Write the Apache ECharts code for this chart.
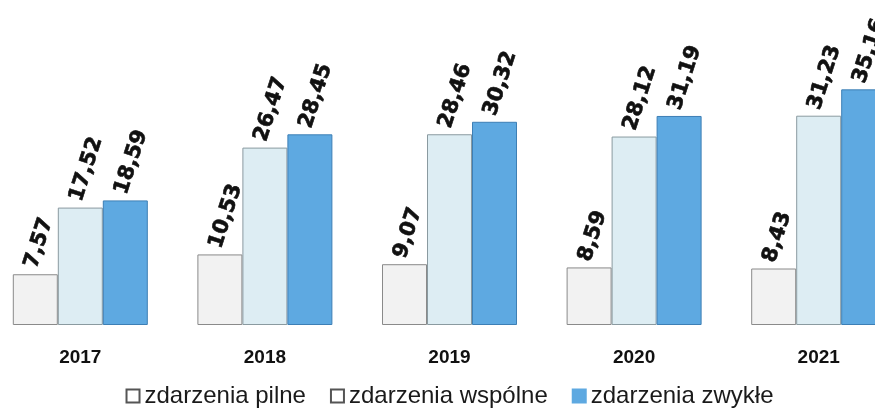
<!DOCTYPE html>
<html>
<head>
<meta charset="utf-8">
<script src="https://cdn.jsdelivr.net/npm/echarts@6/dist/echarts.min.js"></script>
<style>
  html, body { margin: 0; padding: 0; background: #ffffff; overflow: hidden; }
  /* wykres szerszy niż okno: ostatnia grupa jest ucięta jak w oryginale */
  #chart { width: 923px; height: 410px; margin-left: -12px; }
</style>
</head>
<body>
<div id="chart"></div>
<script>
// lata i wartości
const years = ['2017', '2018', '2019', '2020', '2021'];
const pilne = [7.57, 10.53, 9.07, 8.59, 8.43];
const wspolne = [17.52, 26.47, 28.46, 28.12, 31.23];
const zwykle = [18.59, 28.45, 30.32, 31.19, 35.16];

const chart = echarts.init(document.getElementById('chart'));

// etykiety nad słupkami, obrócone
const valueLabel = {
  show: true,
  position: 'top',
  rotate: 72,
  align: 'left',
  verticalAlign: 'middle',
  distance: 20,
  offset: [-14, 0],
  color: '#111',
  fontFamily: 'DejaVu Sans',
  fontWeight: 'bold',
  fontSize: 21,
  textBorderColor: '#111',
  textBorderWidth: 0.6,
  formatter: p => p.value.toFixed(2).replace('.', ',')
};

function makeSeries(name, data, fill, border) {
  return {
    name: name,
    type: 'bar',
    data: data,
    barWidth: 45,
    barGap: '0%',
    itemStyle: { color: fill, borderColor: border, borderWidth: 1 },
    label: valueLabel
  };
}

chart.setOption({
  animation: false,
  grid: { left: 0, right: 0, top: 10, bottom: 85 },
  legend: {
    top: 384,
    left: 'center',
    padding: 0,
    itemWidth: 13,
    itemHeight: 13,
    itemGap: 24,
    icon: 'rect',
    textStyle: { fontFamily: 'Liberation Sans', fontSize: 24, color: '#1a1a1a' },
    data: [
      { name: 'zdarzenia pilne', itemStyle: { color: '#ffffff', borderColor: '#555' } },
      { name: 'zdarzenia wspólne', itemStyle: { color: '#ffffff', borderColor: '#555' } },
      { name: 'zdarzenia zwykłe', itemStyle: { color: '#5ea9e1', borderColor: '#5ea9e1' } }
    ]
  },
  xAxis: {
    type: 'category',
    data: years,
    axisLine: { show: false },
    axisTick: { show: false },
    axisLabel: {
      margin: 23,
      color: '#111',
      fontFamily: 'Liberation Sans',
      fontWeight: 'bold',
      fontSize: 19
    }
  },
  yAxis: {
    type: 'value',
    min: 0,
    max: 47,
    show: false
  },
  series: [
    makeSeries('zdarzenia pilne', pilne, '#f2f2f2', '#8a8a8a'),
    makeSeries('zdarzenia wspólne', wspolne, '#ddedf3', '#8a9aa0'),
    makeSeries('zdarzenia zwykłe', zwykle, '#5ea9e1', '#3d7fb5')
  ]
});
</script>
</body>
</html>
